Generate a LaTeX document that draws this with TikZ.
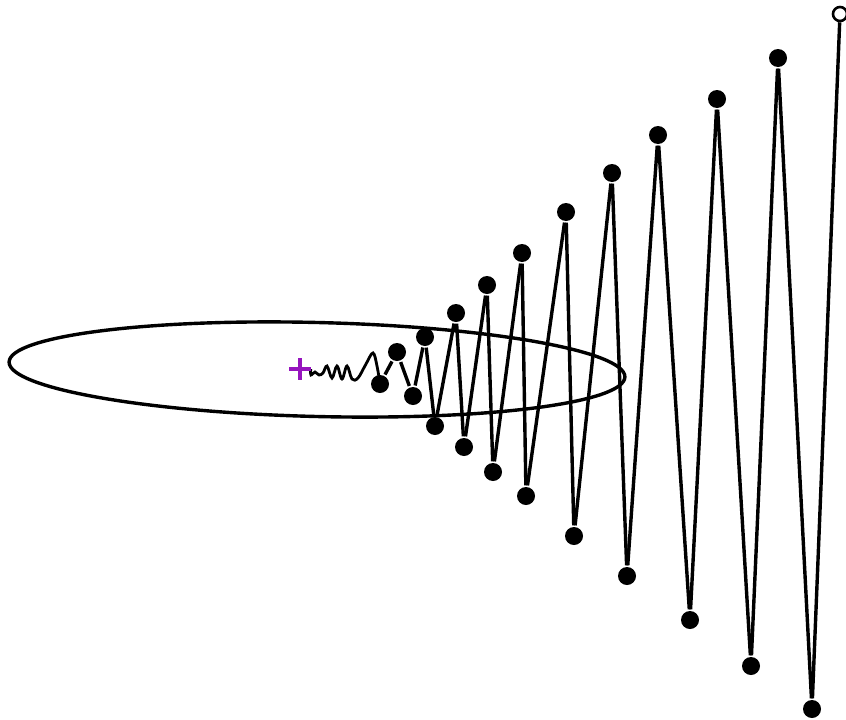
\documentclass[tikz,border=0pt]{standalone}
\usetikzlibrary{positioning}
\definecolor{plusviolet}{RGB}{150,20,190}
\begin{document}
\begin{tikzpicture}[x=1pt, y=-1pt, line width=3.4pt,
    every node/.style={circle, fill=black, minimum size=18pt, inner sep=0pt}]
  \useasboundingbox (0,0) rectangle (846,720);
  \clip (0,0) rectangle (846,720);
  % Ellipse
  \draw[rotate around={-1.4:(317,369.5)}] (317,369.5) ellipse [x radius=308, y radius=47];
  % Zig-zag points
  \foreach \px/\py [count=\i] in {380/384, 397/352, 413/396, 425/337, 435/426, 456/313,
      464/447, 487/285, 493/472, 522/253, 526/496, 566/212, 574/536, 612/173,
      627/576, 658/135, 690/620, 717/99, 751/666, 778/58, 812/709} {
    \node (p\i) at (\px,\py) {};
  }
  \foreach \i in {1,...,20} {
    \pgfmathtruncatemacro{\j}{\i+1}
    \draw (p\i) -- (p\j);
  }
  \node[fill=white, draw, line width=2.6pt, minimum size=14pt] (end) at (840,14) {};
  \draw (p21) -- (end);
  % Start and wiggle
  \node[draw=none, fill=none, minimum size=18pt] (origin) at (300,369) {};
  \draw[line width=2.8pt] plot[smooth, tension=0.6] coordinates {(origin.east) (311,375) (315,372)
      (319,375) (323,373) (327,366) (332,378) (337,366) (342,379) (347,366) (352,379)
      (358,378) (366,364) (373,353) (377,366) (p1)};
  \draw[plusviolet, line width=3.2pt] (origin.west) -- (origin.east) (origin.north) -- (origin.south);
\end{tikzpicture}
\end{document}
